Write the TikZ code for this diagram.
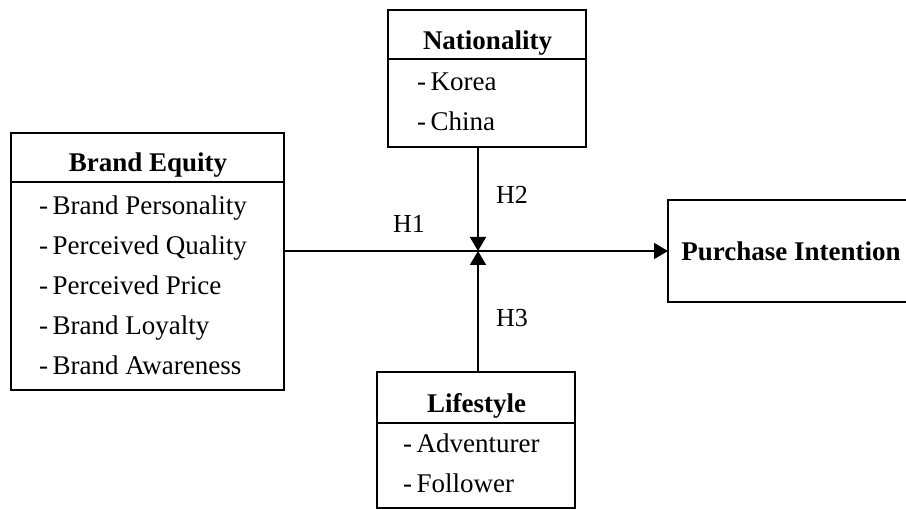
\documentclass[tikz,border=0pt]{standalone}
\usepackage{fontspec}
\setmainfont{Liberation Serif}
\usetikzlibrary{arrows.meta}
\begin{document}
\begin{tikzpicture}[x=1pt,y=-1pt,
  box/.style={draw, line width=1.8pt, inner sep=0pt, outer sep=0pt},
  ttl/.style={font=\fontsize{27}{32}\selectfont\bfseries, inner sep=0pt, anchor=base},
  itm/.style={font=\fontsize{27}{32}\selectfont, inner sep=0pt, anchor=base west},
  hl/.style={font=\fontsize{26}{30}\selectfont, inner sep=0pt, anchor=base west},
  conn/.style={line width=1.8pt},
  arr/.style={line width=1.8pt, -{Triangle[width=16pt,length=14pt]}}]
\useasboundingbox (0,0) rectangle (906,510);
% boxes
\node[box, minimum width=273pt, minimum height=257pt] (be) at (147.5,261.5) {};
\node[box, minimum width=198pt, minimum height=137pt] (nat) at (487,78.5) {};
\node[box, minimum width=198pt, minimum height=136pt] (life) at (476,440) {};
\node[box, minimum width=250pt, minimum height=102pt] (pi) at (793,251) {};
% dividers
\draw[conn] (be.west |- 0,182) -- (be.east |- 0,182);
\draw[conn] (nat.west |- 0,59) -- (nat.east |- 0,59);
\draw[conn] (life.west |- 0,423) -- (life.east |- 0,423);
% titles
\node[ttl] (tbe) at (148,172) {Brand Equity};
\node[ttl] (tnat) at (487.5,50) {Nationality};
\node[ttl] (tlife) at (476.5,413) {Lifestyle};
\node[ttl] (tpi) at (791,261) {Purchase Intention};
% items
\node[itm] (b1) at (39,215) {-\,Brand Personality};
\node[itm] (b2) at (39,255) {-\,Perceived Quality};
\node[itm] (b3) at (39,295) {-\,Perceived Price};
\node[itm] (b4) at (39,335) {-\,Brand Loyalty};
\node[itm] (b5) at (39,375) {-\,Brand Awareness};
\node[itm] (n1) at (417,91) {-\,Korea};
\node[itm] (n2) at (417,131) {-\,China};
\node[itm] (l1) at (403,453) {-\,Adventurer};
\node[itm] (l2) at (403,493) {-\,Follower};
% connectors
\coordinate (j) at (478,251);
\draw[arr] (be.east |- j) -- (pi.west |- j);
\draw[arr] (j |- nat.south) -- (j);
\draw[arr] (j |- life.north) -- (j);
% labels
\node[hl] (h1) at (393,233) {H1};
\node[hl] (h2) at (496,204) {H2};
\node[hl] (h3) at (496,327) {H3};
\end{tikzpicture}
\end{document}
